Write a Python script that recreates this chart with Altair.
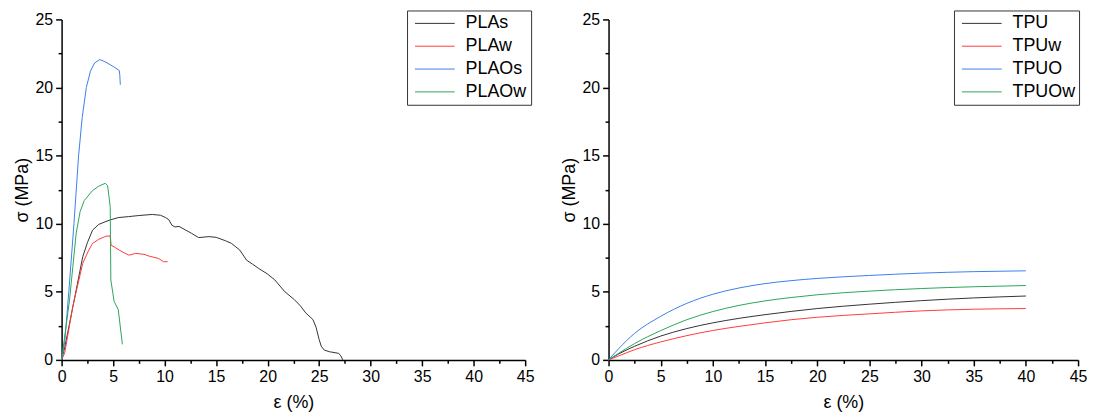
import altair as alt
import pandas as pd

# ---- left panel (PLA) ----
PLAs_x = [0, 0.3, 1.2, 2.05, 2.5, 3.0, 3.6, 4.6, 5.5, 6.5, 7.5, 8.8, 9.6, 10.1, 10.4, 10.7, 11.0, 11.4,
          12.0, 12.6, 13.3, 14.3, 15.0, 15.9, 16.5, 17.3, 17.95, 18.5, 19.1, 20.0, 20.7, 21.65, 22.6,
          23.2, 23.7, 24.4, 24.7, 25.0, 25.2, 25.5, 26.0, 26.9, 27.1, 27.3]
PLAs_y = [0, 0.9, 4.3, 7.57, 8.6, 9.52, 9.95, 10.25, 10.45, 10.52, 10.6, 10.68, 10.62, 10.45, 10.3,
          9.9, 9.76, 9.8, 9.55, 9.3, 8.98, 9.05, 9.0, 8.75, 8.55, 8.06, 7.33, 7.05, 6.73, 6.3, 5.87,
          5.02, 4.42, 3.95, 3.45, 2.96, 2.4, 1.5, 1.01, 0.72, 0.6, 0.48, 0.3, 0.0]

PLAw_x = [0, 0.3, 1.09, 2.05, 2.6, 3.0, 3.6, 4.3, 4.69, 4.75, 4.8, 5.2, 5.6, 6.1, 6.55, 7.2, 8.0,
          8.5, 9.4, 9.9, 10.3]
PLAw_y = [0, 0.5, 3.93, 7.09, 8.0, 8.55, 8.85, 9.08, 9.1, 8.9, 8.43, 8.25, 8.06, 7.85, 7.69, 7.82,
          7.75, 7.62, 7.45, 7.21, 7.21]

PLAOs_x = [0, 0.3, 0.7, 1.2, 1.65, 2.0, 2.4, 2.8, 3.2, 3.7, 4.2, 5.0, 5.6, 5.65, 5.7]
PLAOs_y = [0, 1.3, 5.0, 10.0, 15.0, 17.8, 20.0, 21.2, 21.8, 22.05, 21.9, 21.55, 21.25, 20.9, 20.2]

PLAOw_x = [0, 0.77, 1.41, 1.8, 2.2, 3.0, 3.6, 4.24, 4.46, 4.6, 4.72, 4.75, 4.78, 5.1, 5.5, 5.9]
PLAOw_y = [0, 4.4, 9.28, 10.9, 11.7, 12.43, 12.75, 12.97, 12.8, 12.0, 11.2, 8.5, 5.87, 4.3, 3.69, 1.14]

# ---- right panel (TPU) ----
TPU_strain = [0, 1, 2.5, 5, 7.5, 10, 12.5, 15, 17.5, 20, 25, 30, 35, 40]
TPU_y = [0, 0.45, 1.0, 1.75, 2.3, 2.72, 3.05, 3.32, 3.56, 3.77, 4.09, 4.35, 4.55, 4.69]
TPUw_y = [0, 0.3, 0.75, 1.32, 1.78, 2.16, 2.46, 2.72, 2.95, 3.13, 3.38, 3.6, 3.72, 3.77]
TPUO_y = [0, 0.85, 1.95, 3.2, 4.15, 4.82, 5.28, 5.6, 5.82, 5.98, 6.2, 6.37, 6.48, 6.54]
TPUOw_y = [0, 0.5, 1.2, 2.15, 2.95, 3.55, 4.0, 4.33, 4.58, 4.78, 5.05, 5.24, 5.37, 5.46]

left_names = ["PLAs", "PLAw", "PLAOs", "PLAOw"]
right_names = ["TPU", "TPUw", "TPUO", "TPUOw"]
colors = ["#333333", "#ff3b3b", "#3a80e8", "#2aa55a"]

x_ticks = [i * 2.5 for i in range(19)]
y_ticks = [i * 2.5 for i in range(11)]


def make_df(series):
    rows = []
    for name, xs, ys in series:
        for i, (x, y) in enumerate(zip(xs, ys)):
            rows.append({"series": name, "strain": x, "stress": y, "idx": i})
    return pd.DataFrame(rows)


left_df = make_df([("PLAs", PLAs_x, PLAs_y), ("PLAw", PLAw_x, PLAw_y),
                   ("PLAOs", PLAOs_x, PLAOs_y), ("PLAOw", PLAOw_x, PLAOw_y)])
right_df = make_df([("TPU", TPU_strain, TPU_y), ("TPUw", TPU_strain, TPUw_y),
                    ("TPUO", TPU_strain, TPUO_y), ("TPUOw", TPU_strain, TPUOw_y)])

major = "datum.value % 5 === 0"


def make_axis(title, values, title_pad):
    return alt.Axis(
        title=title, values=values,
        labelExpr=f"{major} ? datum.label : ''",
        tickSize={"condition": {"test": major, "value": 6}, "value": 3.5},
        labelOverlap=False, labelFlush=False, titlePadding=title_pad,
    )


def panel(df, names, width, lx, interp):
    return alt.Chart(df).mark_line(strokeWidth=1, interpolate=interp).encode(
        x=alt.X("strain:Q", scale=alt.Scale(domain=[0, 45], nice=False),
                axis=make_axis("ε (%)", x_ticks, 9)),
        y=alt.Y("stress:Q", scale=alt.Scale(domain=[0, 25], nice=False),
                axis=make_axis("σ (MPa)", y_ticks, 4)),
        color=alt.Color("series:N", scale=alt.Scale(domain=names, range=colors),
                        legend=alt.Legend(
                            title=None, orient="none", legendX=lx, legendY=-9,
                            symbolType="M-1,0H7", symbolSize=100, symbolStrokeWidth=1,
                            labelOffset=37, labelFont="Liberation Sans", labelFontSize=18,
                            labelColor="black", rowPadding=5, padding=4,
                            strokeColor="#333333", fillColor="white",
                        )),
        order="idx:Q",
    ).properties(width=width, height=343)


left = panel(left_df, left_names, 467, 348, "linear")
right = panel(right_df, right_names, 473, 348, "monotone")

chart = alt.hconcat(left, right, spacing=26).resolve_scale(color="independent").configure(
    padding={"left": 5, "top": 0, "right": 0, "bottom": 0}
).configure_view(stroke=None).configure_axis(
    domainColor="black", domainWidth=1.5, tickColor="black", tickWidth=1.5,
    labelFont="Liberation Sans", labelFontSize=16, labelColor="black", labelPadding=3,
    titleFont="Liberation Sans", titleFontSize=18, titleFontWeight="normal", titleColor="black",
    grid=False,
)

chart.save("out.html", embed_options={"renderer": "svg", "actions": False})
